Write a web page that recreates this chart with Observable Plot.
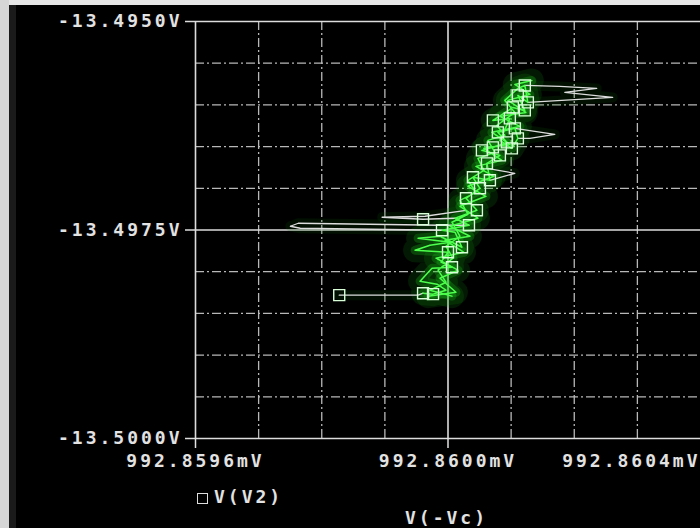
<!DOCTYPE html>
<html>
<head>
<meta charset="utf-8">
<script src="https://cdn.jsdelivr.net/npm/d3@7"></script>
<script src="https://cdn.jsdelivr.net/npm/@observablehq/plot@0.6"></script>
<style>
  html, body { margin: 0; padding: 0; background: #000; overflow: hidden; }
  #wrap { position: relative; width: 700px; height: 528px; background: #000; }
  #chart svg text { letter-spacing: 3px; font-weight: bold; }
  .lbl { position: absolute; color: #e2e2e2; font-family: "DejaVu Sans Mono", monospace; font-weight: bold; font-size: 18px; letter-spacing: 3px; white-space: nowrap; line-height: 20px; }
  .sq { display: inline-block; width: 9px; height: 9px; border: 1.5px solid #ddd; margin-right: 6px; vertical-align: -1px; }
  .edge { position: absolute; }
</style>
</head>
<body>
<div id="wrap">
  <div id="chart"></div>
  <div class="lbl" style="left:197px; top:487px;"><span class="sq"></span>V(V2)</div>
  <div class="lbl" style="left:405px; top:508px;">V(-Vc)</div>
  <div class="edge" style="left:0; top:0; width:700px; height:5px; background:#e6e6e6;"></div>
  <div class="edge" style="left:0; top:0; width:9px; height:528px; background:#d6d6d6;"></div>
  <div class="edge" style="left:9px; top:5px; width:7px; height:523px; background:#1a1a1a;"></div>
</div>
<script>
// Axis ticks and labels
const xTicks = [992.8596, 992.8600, 992.8604];
const xTickLabels = ["992.8596mV", "992.8600mV", "992.8604mV"];
const yTicks = [-13.4950, -13.4975, -13.5000];
const yTickLabels = ["-13.4950V", "-13.4975V", "-13.5000V"];
const gridX = [992.8597, 992.8598, 992.8599, 992.8601, 992.8602, 992.8603];
const gridY = [-13.4955, -13.4960, -13.4965, -13.4970, -13.4980, -13.4985, -13.4990, -13.4995];

// Main trace V(V2) vs V(-Vc): dense band (first pass)
const bandX = [992.8599605, 992.8599763, 992.8599968, 992.8599826, 992.8599557, 992.8599747, 992.8600063, 992.8599889,
  992.8600000, 992.8599478, 992.8599715, 992.8600032, 992.8599526, 992.8599873, 992.8600221, 992.8600111, 992.8599905,
  992.8600332, 992.8600111, 992.8600458, 992.8600285, 992.8600506, 992.8600395, 992.8600664, 992.8600617, 992.8600822,
  992.8600537, 992.8600711, 992.8600933, 992.8600790, 992.8601059, 992.8601107, 992.8601012, 992.8600822, 992.8600980,
  992.8600711, 992.8601028, 992.8601217, 992.8601107, 992.8601265, 992.8601217, 992.8601107, 992.8600901, 992.8601059,
  992.8600775, 992.8600901, 992.8600632, 992.8600743, 992.8600474, 992.8600569, 992.8600316, 992.8600443, 992.8600190,
  992.8600316, 992.8600063, 992.8600190, 992.8599968, 992.8600079, 992.8599842, 992.8599968, 992.8599715, 992.8600063];
const bandY = [-13.498258, -13.498269, -13.498222, -13.498150, -13.498114, -13.497958, -13.497946, -13.497886,
  -13.497767, -13.497743, -13.497683, -13.497647, -13.497599, -13.497575, -13.497707, -13.497527, -13.497503,
  -13.497443, -13.497359, -13.497264, -13.497120, -13.497000, -13.496868, -13.496904, -13.496701, -13.496605,
  -13.496545, -13.496509, -13.496449, -13.496329, -13.496281, -13.496401, -13.496521, -13.496425, -13.496162,
  -13.496186, -13.496030, -13.496066, -13.495886, -13.495970, -13.495767, -13.495802, -13.495946, -13.496090,
  -13.496246, -13.496365, -13.496425, -13.496569, -13.496641, -13.496784, -13.496904, -13.497048, -13.497144,
  -13.497311, -13.497407, -13.497575, -13.497695, -13.497838, -13.497982, -13.498126, -13.498222, -13.498293];

// Second pass of the band (wider zigzag)
const band2X = [992.8599684, 992.8600126, 992.8599873, 992.8600158, 992.8599810, 992.8600253, 992.8599953, 992.8600348,
  992.8600032, 992.8600474, 992.8600190, 992.8600601, 992.8600316, 992.8600727, 992.8600443, 992.8600854, 992.8600569,
  992.8600980, 992.8600696, 992.8601138, 992.8600822, 992.8601233, 992.8600949, 992.8601296, 992.8601059, 992.8601328];
const band2Y = [-13.498293, -13.498246, -13.498078, -13.497982, -13.497838, -13.497767, -13.497623, -13.497575,
  -13.497455, -13.497359, -13.497216, -13.497096, -13.496976, -13.496856, -13.496737, -13.496665, -13.496521,
  -13.496473, -13.496329, -13.496258, -13.496138, -13.496090, -13.495946, -13.495874, -13.495755, -13.495707];

// Excursions (spikes) of the trace
const spikeBottomX = [992.8598277, 992.8598925, 992.8599526, 992.8599605];
const spikeBottomY = [-13.498281, -13.498281, -13.498281, -13.498258];
const spikeLeftX = [992.8599905, 992.8597660, 992.8597502, 992.8597628, 992.8599873, 992.8600332];
const spikeLeftY = [-13.497503, -13.497479, -13.497455, -13.497419, -13.497443, -13.497443];
const spikeLeft2X = [992.8600111, 992.8599605, 992.8598956, 992.8599636, 992.8600285];
const spikeLeft2Y = [-13.497359, -13.497371, -13.497347, -13.497335, -13.497264];
const spikeMidX = [992.8601059, 992.8601692, 992.8601296, 992.8601107];
const spikeMidY = [-13.496281, -13.496353, -13.496401, -13.496401];
const spikeSmallX = [992.8600664, 992.8601059, 992.8600617, 992.8600617];
const spikeSmallY = [-13.496904, -13.496820, -13.496760, -13.496701];
const spikeTopX = [992.8601265, 992.8602609, 992.8601850, 992.8602356, 992.8601771, 992.8601217];
const spikeTopY = [-13.495970, -13.495910, -13.495850, -13.495802, -13.495778, -13.495767];

// Square markers
const markX = [992.8598277, 992.8599605, 992.8599763, 992.8600063, 992.8600000, 992.8600221, 992.8599905, 992.8600332,
  992.8599605, 992.8600458, 992.8600285, 992.8600506, 992.8600664, 992.8600395, 992.8600617, 992.8600822, 992.8600537,
  992.8600711, 992.8601012, 992.8600933, 992.8600790, 992.8601107, 992.8601059, 992.8600980, 992.8600711, 992.8601217,
  992.8601028, 992.8601265, 992.8601107, 992.8601217];
const markY = [-13.498281, -13.498258, -13.498269, -13.497946, -13.497767, -13.497707, -13.497503, -13.497443,
  -13.497371, -13.497264, -13.497120, -13.497000, -13.496904, -13.496868, -13.496701, -13.496605, -13.496545,
  -13.496509, -13.496521, -13.496449, -13.496329, -13.496401, -13.496281, -13.496162, -13.496186, -13.496066,
  -13.496030, -13.495970, -13.495886, -13.495767];

const zip = (xs, ys) => xs.map((x, i) => ({x, y: ys[i]}));
const bands = [zip(bandX, bandY), zip(band2X, band2Y)].flatMap((s, k) => s.map(p => ({...p, k})));
const spikes = [
  zip(spikeBottomX, spikeBottomY), zip(spikeLeftX, spikeLeftY), zip(spikeLeft2X, spikeLeft2Y),
  zip(spikeMidX, spikeMidY), zip(spikeSmallX, spikeSmallY), zip(spikeTopX, spikeTopY)
].flatMap((s, k) => s.map(p => ({...p, k})));
const marks = zip(markX, markY);
const yLabel = new Map(yTicks.map((d, i) => [d, yTickLabels[i]]));
const xl = xTicks.map((x, i) => ({x, label: xTickLabels[i]}));

const dash = "9,3,2,3";
const chart = Plot.plot({
  width: 700, height: 478,
  marginLeft: 195, marginRight: 0, marginTop: 21, marginBottom: 40,
  style: {background: "black", color: "#e2e2e2", fontFamily: "DejaVu Sans Mono, monospace", fontSize: "18px", overflow: "visible"},
  x: {domain: [992.8596, 992.8604], axis: null},
  y: {domain: [-13.5000, -13.4950], axis: null},
  marks: [
    Plot.ruleX(gridX, {stroke: "#b8b8b8", strokeWidth: 1.3, strokeDasharray: dash}),
    Plot.ruleY(gridY, {stroke: "#b8b8b8", strokeWidth: 1.3, strokeDasharray: dash}),
    Plot.ruleX([xTicks[0], xTicks[1]], {stroke: "#dcdcdc", strokeWidth: 1.6}),
    Plot.ruleY(yTicks, {stroke: "#dcdcdc", strokeWidth: 1.6}),
    Plot.axisY(yTicks, {tickFormat: d => yLabel.get(d), tickSize: 10, tickPadding: 3, label: null, stroke: "#dcdcdc", strokeWidth: 1.5}),
    Plot.axisX([xTicks[0], xTicks[1]], {tickFormat: () => "", tickSize: 10, label: null, strokeWidth: 1.5}),
    Plot.text(xl.slice(0, 2), {x: "x", text: "label", frameAnchor: "bottom", dy: 28, fill: "#e2e2e2"}),
    Plot.text(xl.slice(2), {x: "x", text: "label", frameAnchor: "bottom", dy: 28, textAnchor: "end", fill: "#e2e2e2"}),
    // glow
    Plot.line(bands, {x: "x", y: "y", z: "k", stroke: "#12b012", strokeWidth: 24, strokeOpacity: 0.14, strokeLinejoin: "round"}),
    Plot.line(bands, {x: "x", y: "y", z: "k", stroke: "#22dd22", strokeWidth: 9, strokeOpacity: 0.22, strokeLinejoin: "round"}),
    Plot.line(spikes, {x: "x", y: "y", z: "k", stroke: "#0a6a0a", strokeWidth: 10, strokeOpacity: 0.15}),
    // trace
    Plot.line(spikes, {x: "x", y: "y", z: "k", stroke: "#dddddd", strokeWidth: 1.3}),
    Plot.line(bands, {x: "x", y: "y", z: "k", stroke: "#4dff4d", strokeWidth: 1.5}),
    Plot.dot(marks, {x: "x", y: "y", symbol: "square", r: 6.2, stroke: "#d8ffd8", fill: "none", strokeWidth: 1.4})
  ]
});
document.getElementById("chart").appendChild(chart);
</script>
</body>
</html>
